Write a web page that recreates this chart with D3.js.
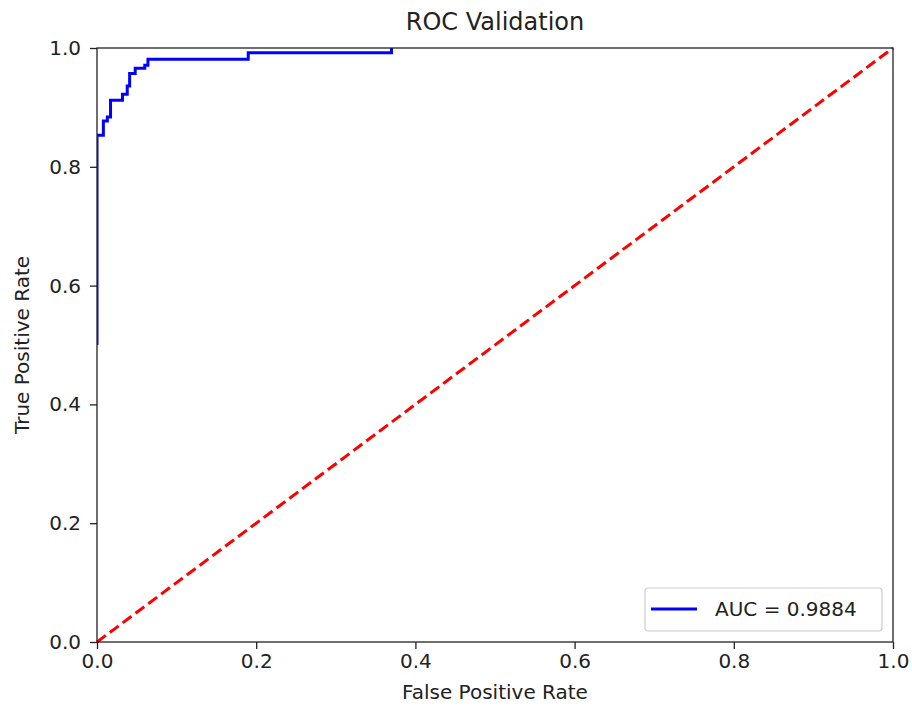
<!DOCTYPE html>
<html>
<head>
<meta charset="utf-8">
<script src="https://cdn.jsdelivr.net/npm/d3@7"></script>
<style>
  body { margin: 0; background: #fff; }
  svg text { font-family: "DejaVu Sans", sans-serif; fill: #222; }
</style>
</head>
<body>
<div id="chart"></div>
<script>
// ROC curve points (the run along the top edge after 0.37 is hidden by the frame)
const fpr = [0.0, 0.0, 0.008, 0.008, 0.013, 0.013, 0.017, 0.017, 0.032, 0.032, 0.038, 0.038, 0.041, 0.041, 0.048, 0.048, 0.060, 0.060, 0.064, 0.064, 0.190, 0.190, 0.370, 0.370];
const tpr = [0.5, 0.853, 0.853, 0.877, 0.877, 0.884, 0.884, 0.912, 0.912, 0.922, 0.922, 0.936, 0.936, 0.957, 0.957, 0.966, 0.966, 0.971, 0.971, 0.981, 0.981, 0.992, 0.992, 1.0];
const chance = [0, 1];
const ticks = [0, 0.2, 0.4, 0.6, 0.8, 1.0];
const legendLabel = "AUC = 0.9884";

const width = 912;
const height = 706;
const margin = { top: 48, left: 97, bottom: 64, right: 19 };
const iwidth = width - margin.left - margin.right;
const iheight = height - margin.top - margin.bottom;

const svg = d3.select("#chart").append("svg")
  .attr("width", width)
  .attr("height", height);

const g = svg.append("g")
  .attr("transform", `translate(${margin.left},${margin.top})`);

const x = d3.scaleLinear().domain([0, 1]).range([0, iwidth]);
const y = d3.scaleLinear().domain([0, 1]).range([iheight, 0]);

g.append("clipPath").attr("id", "clip")
  .append("rect").attr("width", iwidth).attr("height", iheight);

const line = d3.line().x(d => x(d[0])).y(d => y(d[1]));

// chance diagonal
g.append("path")
  .datum(chance.map(v => [v, v]))
  .attr("d", line)
  .attr("fill", "none")
  .attr("stroke", "#ff0000")
  .attr("stroke-width", 3)
  .attr("stroke-dasharray", "11,5");

// roc curve
g.append("path")
  .datum(fpr.map((v, i) => [v, tpr[i]]))
  .attr("d", line)
  .attr("fill", "none")
  .attr("stroke", "#0000ff")
  .attr("stroke-width", 3)
  .attr("clip-path", "url(#clip)");

// frame
g.append("rect")
  .attr("width", iwidth).attr("height", iheight)
  .attr("fill", "none").attr("stroke", "#222").attr("stroke-width", 1.3);

const fmt = d3.format(".1f");
const xAxis = g.append("g")
  .attr("transform", `translate(0,${iheight})`)
  .call(d3.axisBottom(x).tickValues(ticks).tickFormat(fmt).tickSize(7).tickPadding(5));
const yAxis = g.append("g")
  .call(d3.axisLeft(y).tickValues(ticks).tickFormat(fmt).tickSize(7).tickPadding(9));
[xAxis, yAxis].forEach(a => {
  a.select(".domain").remove();
  a.selectAll("line").attr("stroke", "#222").attr("stroke-width", 1.3);
  a.selectAll("text").style("font-size", "20px").attr("fill", "#222")
    .style("font-family", "DejaVu Sans, sans-serif");
});

// labels
svg.append("text")
  .attr("x", margin.left + iwidth / 2).attr("y", 30)
  .attr("text-anchor", "middle").style("font-size", "24px")
  .text("ROC Validation");
svg.append("text")
  .attr("x", margin.left + iwidth / 2).attr("y", 699)
  .attr("text-anchor", "middle").style("font-size", "20px")
  .text("False Positive Rate");
svg.append("text")
  .attr("transform", `translate(29,${margin.top + iheight / 2}) rotate(-90)`)
  .attr("text-anchor", "middle").style("font-size", "20px")
  .text("True Positive Rate");

// legend
const lg = g.append("g").attr("transform", `translate(${iwidth - 248},${iheight - 54})`);
lg.append("rect")
  .attr("width", 237).attr("height", 43).attr("rx", 3)
  .attr("fill", "#fff").attr("stroke", "#ccc").attr("stroke-width", 1.2);
lg.append("line")
  .attr("x1", 6).attr("x2", 52).attr("y1", 21).attr("y2", 21)
  .attr("stroke", "#0000ff").attr("stroke-width", 3);
lg.append("text")
  .attr("x", 70).attr("y", 28).style("font-size", "20px")
  .text(legendLabel);
</script>
</body>
</html>
